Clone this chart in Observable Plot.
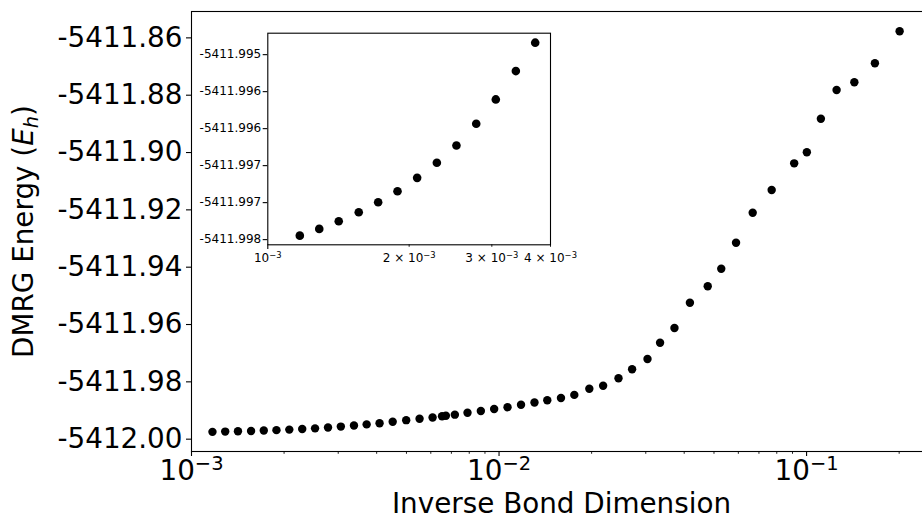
<!DOCTYPE html>
<html><head><meta charset="utf-8">
<script src="https://cdn.jsdelivr.net/npm/d3@7"></script>
<script src="https://cdn.jsdelivr.net/npm/@observablehq/plot@0.6"></script>
<style>
html,body{margin:0;padding:0;background:#fff;overflow:hidden;width:922px;height:518px}
#wrap{position:relative;width:922px;height:518px;overflow:hidden}
#wrap svg{position:absolute;left:0;top:0;font-family:"DejaVu Sans",sans-serif;max-width:none !important}
</style></head><body><div id="wrap"></div>
<script>
// Inverse bond dimension (x) and DMRG energy in Hartree (y)
const invBond = [
  1.170e-3, 1.287e-3, 1.416e-3, 1.562e-3, 1.718e-3, 1.889e-3, 2.080e-3, 2.291e-3, 2.522e-3, 2.779e-3,
  3.059e-3, 3.375e-3, 3.711e-3, 4.088e-3, 4.510e-3, 4.990e-3, 5.515e-3, 6.080e-3, 6.527e-3, 6.716e-3,
  7.183e-3, 7.897e-3, 8.727e-3, 9.641e-3, 1.0656e-2, 1.179e-2, 1.304e-2, 1.435e-2, 1.590e-2, 1.757e-2,
  1.966e-2, 2.180e-2, 2.446e-2, 2.708e-2, 3.039e-2, 3.339e-2, 3.719e-2, 4.175e-2, 4.771e-2, 5.279e-2,
  5.897e-2, 6.680e-2, 7.700e-2, 9.114e-2, 0.1002, 0.1113, 0.1252, 0.1430, 0.1668, 0.2007
];
const energy = [
  -5411.997446, -5411.997355, -5411.997252, -5411.997130, -5411.996995, -5411.996846, -5411.996665,
  -5411.996462, -5411.996228, -5411.995934, -5411.995605, -5411.995222, -5411.994838,
  -5411.99442, -5411.99390, -5411.99337, -5411.99288, -5411.99243, -5411.99198, -5411.99184,
  -5411.99145, -5411.99076, -5411.99016, -5411.98947, -5411.98884, -5411.98797, -5411.98720,
  -5411.98643, -5411.98563, -5411.98455, -5411.98242, -5411.98134, -5411.97872, -5411.97562,
  -5411.97203, -5411.96638, -5411.96121, -5411.95239, -5411.94663, -5411.94056, -5411.93146,
  -5411.92103, -5411.91308, -5411.90377, -5411.89990, -5411.88821, -5411.87820, -5411.87548,
  -5411.86885, -5411.85769
];
// Inset: the 13 largest bond dimensions
const insetCount = 13;

const mainYTicks = [-5412.00, -5411.98, -5411.96, -5411.94, -5411.92, -5411.90, -5411.88, -5411.86];
const mainXMajor = [1e-3, 1e-2, 1e-1];
const mainXMajorLabels = ["10^{-3}", "10^{-2}", "10^{-1}"];
const mainXMinor = [2e-3,3e-3,4e-3,5e-3,6e-3,7e-3,8e-3,9e-3,2e-2,3e-2,4e-2,5e-2,6e-2,7e-2,8e-2,9e-2,2e-1];

const insetYTicks = [-5411.9975, -5411.9970, -5411.9965, -5411.9960, -5411.9955, -5411.9950];
const insetYLabels = ["-5411.998", "-5411.997", "-5411.997", "-5411.996", "-5411.996", "-5411.995"];
const insetXMajor = [1e-3];
const insetXMajorLabels = ["10^{-3}"];
const insetXMinor = [2e-3, 3e-3, 4e-3];
const insetXMinorLabels = ["2 \u00d7 10^{-3}", "3 \u00d7 10^{-3}", "4 \u00d7 10^{-3}"];

const xLabel = "Inverse Bond Dimension";
const yLabel = "DMRG Energy (E_h)";

const points = invBond.map((x, i) => ({x, y: energy[i]}));
const insetPoints = points.slice(0, insetCount);

const FS = 27.8, FSI = 12, SW = 1.1;
const baseStyle = {fontFamily: "DejaVu Sans", color: "#000", background: "transparent", maxWidth: "none", overflow: "visible"};

const main = Plot.plot({
  width: 931, height: 518,
  marginLeft: 191, marginRight: 0, marginTop: 11, marginBottom: 67,
  style: baseStyle,
  x: {type: "log", domain: [1e-3, 0.2548]},
  y: {domain: [-5412.0043, -5411.8508]},
  marks: [
    Plot.frame({stroke: "#000", strokeWidth: SW}),
    Plot.axisY(mainYTicks, {tickSize: 5, tickPadding: 4, fontSize: FS, strokeWidth: SW,
      text: d => d.toFixed(2), label: null}),
    Plot.axisX(mainXMinor, {tickSize: 2.8, strokeWidth: SW * 0.8, text: () => "", label: null}),
    Plot.axisX(mainXMajor, {tickSize: 5, tickPadding: 3.6, fontSize: FS, strokeWidth: SW,
      text: d => mainXMajorLabels[mainXMajor.indexOf(d)], label: null}),
    Plot.dot(points, {x: "x", y: "y", r: 4.2, fill: "#000"}),
    Plot.text([yLabel], {frameAnchor: "left", textAnchor: "middle", lineAnchor: "middle",
      rotate: -90, dx: -167.6, fontSize: FS, fill: "#000"}),
    Plot.text([xLabel], {frameAnchor: "bottom", textAnchor: "middle", lineAnchor: "middle",
      dy: 52.1, fontSize: FS, fill: "#000"})
  ]
});

const inset = Plot.plot({
  width: 922, height: 518,
  marginLeft: 267.3, marginRight: 372, marginTop: 32.7, marginBottom: 273.7,
  style: baseStyle,
  x: {type: "log", domain: [1e-3, 4e-3]},
  y: {domain: [-5411.99757, -5411.99471]},
  marks: [
    Plot.frame({fill: "#fff", stroke: "#000", strokeWidth: SW}),
    Plot.axisY(insetYTicks, {tickSize: 4.6, tickPadding: 2, fontSize: FSI, strokeWidth: SW,
      text: d => insetYLabels[insetYTicks.indexOf(d)], label: null}),
    Plot.axisX(insetXMajor, {tickSize: 4.6, tickPadding: 4.3, fontSize: FSI, strokeWidth: SW,
      text: d => insetXMajorLabels[insetXMajor.indexOf(d)], label: null}),
    Plot.axisX(insetXMinor, {tickSize: 2.5, tickPadding: 6.4, fontSize: FSI, strokeWidth: SW * 0.8,
      text: d => insetXMinorLabels[insetXMinor.indexOf(d)], label: null}),
    Plot.dot(insetPoints, {x: "x", y: "y", r: 4.3, fill: "#000"})
  ]
});

const NS = "http://www.w3.org/2000/svg";
function mathify(svg, fs) {
  svg.querySelectorAll("text").forEach(t => {
    const s = t.textContent;
    const m = s.match(/^(.*)\^\{(.*)\}$/);
    if (m) {
      t.textContent = "";
      t.append(m[1]);
      const sup = document.createElementNS(NS, "tspan");
      sup.setAttribute("font-size", (fs * 0.7).toFixed(2));
      sup.setAttribute("dy", (-fs * 0.36).toFixed(2));
      sup.textContent = m[2].replace("-", "\u2212");
      t.append(sup);
    } else if (s === yLabel) {
      t.textContent = "";
      t.append("DMRG Energy (");
      const e = document.createElementNS(NS, "tspan");
      e.setAttribute("font-style", "oblique");
      e.textContent = "E";
      const h = document.createElementNS(NS, "tspan");
      h.setAttribute("font-size", (fs * 0.7).toFixed(2));
      h.setAttribute("font-style", "oblique");
      h.setAttribute("dy", (fs * 0.2).toFixed(2));
      h.textContent = "h";
      const c = document.createElementNS(NS, "tspan");
      c.setAttribute("dy", (-fs * 0.2).toFixed(2));
      c.textContent = ")";
      t.append(e, h, c);
    }
  });
}
mathify(main, FS);
mathify(inset, FSI);
const wrap = document.getElementById("wrap");
wrap.append(main, inset);
</script></body></html>
